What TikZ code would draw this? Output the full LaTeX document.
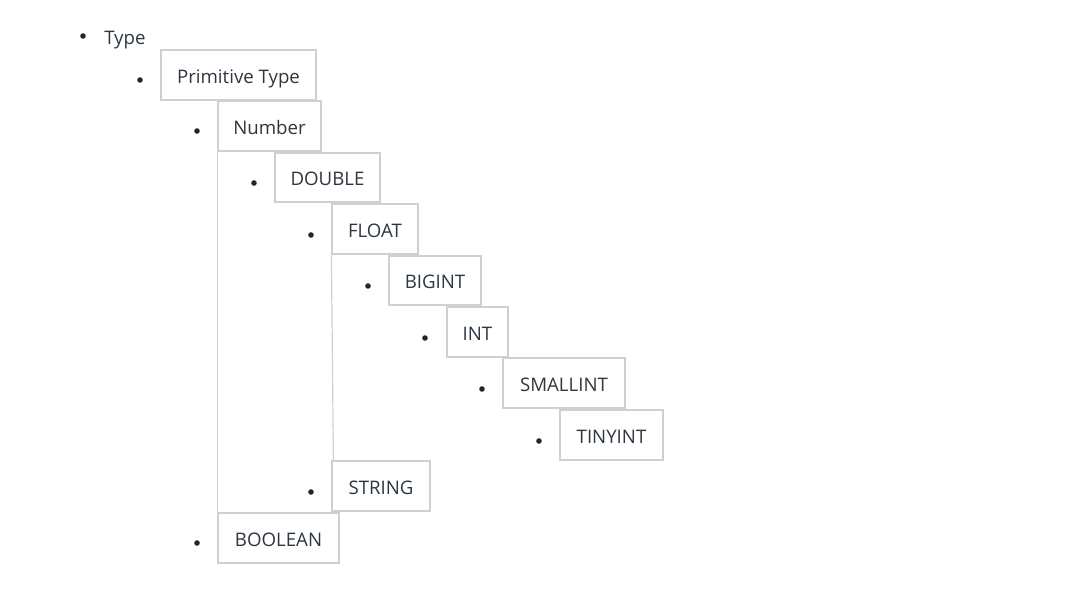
\documentclass[tikz,border=0pt]{standalone}
\usepackage{fontspec}
\setmainfont{Open Sans}
\definecolor{boxline}{HTML}{CDD1D5}
\definecolor{txt}{HTML}{2E3640}
\definecolor{dotc}{HTML}{1B2838}
\tikzset{
  box/.style args={#1/#2}{draw=boxline, line width=0.9pt, fill=white, inner sep=0pt,
    minimum width={#1*0.75pt}, minimum height={#2*0.75pt}, text=txt,
    text height=12.2pt, text depth=0pt,
    font=\fontsize{14}{16}\selectfont},
  bul/.style={circle, fill=dotc, inner sep=0pt, minimum size=4.2pt},
  lbl/.style={text=txt, inner sep=0pt, text height=12.2pt, text depth=0pt,
    font=\fontsize{14}{16}\selectfont},
  conn/.style={draw=boxline, line width=0.9pt}
}
\begin{document}
\begin{tikzpicture}[x=0.75pt,y=-0.75pt]
\useasboundingbox (0,0) rectangle (1077,595);
\node[box=155/50] (prim) at (238.5,75) {Primitive Type};
\node[box=103/50] (num) at (269.5,126) {Number};
\node[box=121/50] (bool) at (278.5,538) {BOOLEAN};
\node[box=86/50] (flt) at (375,229) {FLOAT};
\node[box=98/50] (str) at (381,486) {STRING};
\draw[conn] (num.south west) -- (bool.north west);
\draw[conn] (flt.south west) -- ([xshift=1.5pt]str.north west);
\node[box=105/49] (dbl) at (327.5,177.5) {DOUBLE};
\node[box=92/49] (big) at (435,280.5) {BIGINT};
\node[box=61/50] (int) at (477.5,332) {INT};
\node[box=122/50] (small) at (564,383) {SMALLINT};
\node[box=103/50] (tiny) at (611.5,435) {TINYINT};
% bullets
\node[bul] (b0) at (83,36) {};
\node[lbl, anchor=west] (type) at (104,36) {Type};
\node[bul] (b1) at (140,80) {};
\node[bul] (b2) at (197,131) {};
\node[bul] (b3) at (254,183) {};
\node[bul] (b4) at (311,235) {};
\node[bul] (b5) at (368,286) {};
\node[bul] (b6) at (425,338) {};
\node[bul] (b7) at (482,389) {};
\node[bul] (b8) at (539,441) {};
\node[bul] (b9) at (311,492) {};
\node[bul] (b10) at (197,543) {};
\end{tikzpicture}
\end{document}
